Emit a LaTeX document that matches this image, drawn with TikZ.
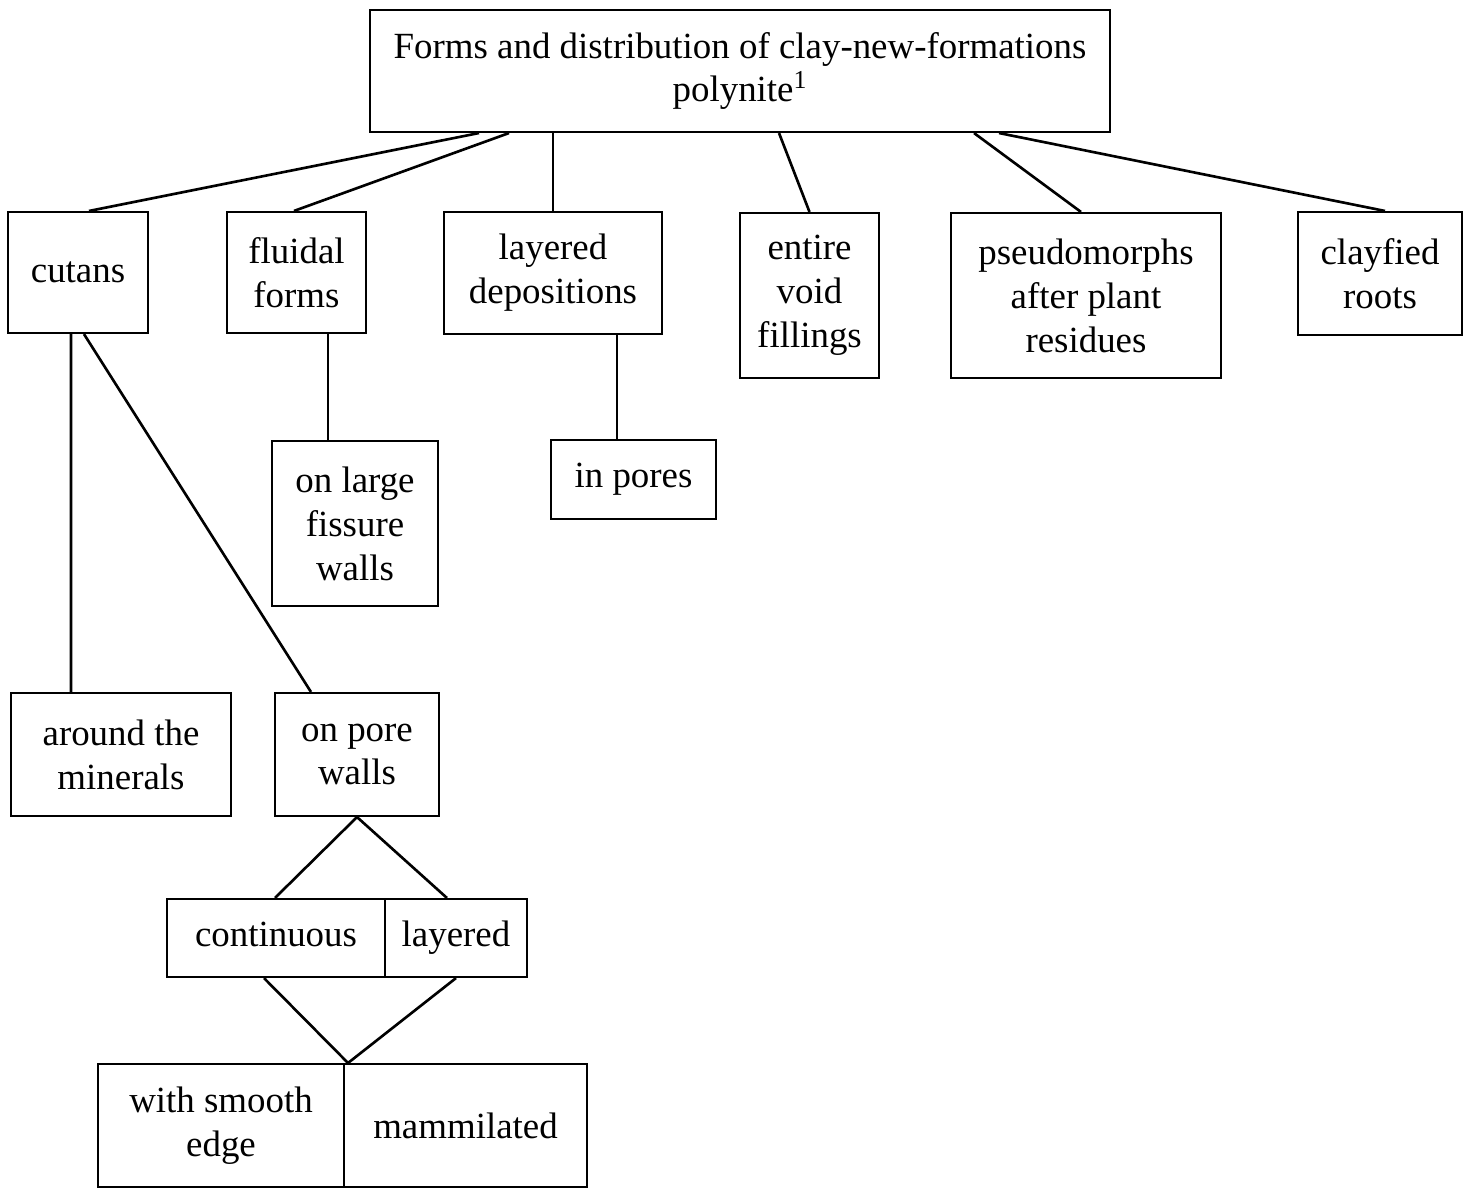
\documentclass[tikz,border=0pt]{standalone}
\usepackage{fontspec}
\setmainfont{Liberation Serif}
\usetikzlibrary{calc}
\begin{document}
\begin{tikzpicture}[x=0.02cm,y=-0.02cm,
  box/.style={draw,line width=1.2pt,rectangle,align=center,inner sep=0pt,
    font=\fontsize{21}{25}\selectfont},
  link/.style={line width=1.5pt}]
\useasboundingbox (0,0) rectangle (1473,1187);

% top heading box
\node[box,minimum width=14.8cm,minimum height=2.44cm] (top) at (740,71)
  {Forms and distribution of clay-new-formations\\polynite\textsuperscript{1}};

% first level
\node[box,minimum width=2.8cm,minimum height=2.42cm] (cutans) at (78,272.5) {cutans};
\node[box,minimum width=2.78cm,minimum height=2.42cm] (fluidal) at (296.5,272.5) {fluidal\\forms};
\node[box,minimum width=4.36cm,minimum height=2.44cm] (layered) at (553,273) {layered\\depositions};
\node[box,minimum width=2.78cm,minimum height=3.3cm] (entire) at (809.5,295.5) {entire\\void\\fillings};
\node[box,minimum width=5.4cm,minimum height=3.3cm] (pseudo) at (1086,295.5) {pseudomorphs\\after plant\\residues};
\node[box,minimum width=3.28cm,minimum height=2.46cm] (clayfied) at (1380,273.5) {clayfied\\roots};

% second level
\node[box,minimum width=3.32cm,minimum height=3.3cm] (fissure) at (355,523.5) {on large\\fissure\\walls};
\node[box,minimum width=3.3cm,minimum height=1.58cm] (pores) at (633.5,479.5) {in pores};
\node[box,minimum width=4.4cm,minimum height=2.46cm] (around) at (121,754.5) {around the\\minerals};
\node[box,minimum width=3.28cm,minimum height=2.46cm] (porewalls) at (357,754.5) {on pore\\walls};

% split boxes
\node[box,minimum width=4.36cm,minimum height=1.56cm] (cont) at (276,938) {\strut continuous};
\node[box,minimum width=2.84cm,minimum height=1.56cm] (lay2) at (456,938) {\strut layered};
\node[box,minimum width=4.92cm,minimum height=2.46cm] (smooth) at (221,1125.5) {with smooth\\edge};
\node[box,minimum width=4.86cm,minimum height=2.46cm] (mamm) at (465.5,1125.5) {mammilated};

% connectors from the heading
\draw[link] ($(top.south west)+(110,0)$) -- ($(cutans.north west)+(82,0)$);
\draw[link] ($(top.south west)+(140,0)$) -- ($(fluidal.north west)+(68,0)$);
\draw[link] (layered.north |- top.south) -- (layered.north);
\draw[link] ($(top.south west)+(410,0)$) -- (entire.north);
\draw[link] ($(top.south west)+(605,0)$) -- ($(pseudo.north west)+(131,0)$);
\draw[link] ($(top.south west)+(630,0)$) -- ($(clayfied.north)+(5,0)$);

% lower connectors
\draw[link] ($(cutans.south west)+(64,0)$) -- ($(around.north west)+(61,0)$);
\draw[link] ($(cutans.south west)+(77,0)$) -- ($(porewalls.north west)+(37,0)$);
\draw[link] ($(fluidal.south west)+(102,0)$) coordinate (fs) -- (fs |- fissure.north);
\draw[link] ($(layered.south west)+(174,0)$) coordinate (ls) -- (ls |- pores.north);
\draw[link] ($(cont.north west)+(109,0)$) -- (porewalls.south) -- ($(lay2.north west)+(63,0)$);
\draw[link] ($(cont.south west)+(98,0)$) -- ($(smooth.north east)+(3,0)$) -- (lay2.south);
\end{tikzpicture}
\end{document}
